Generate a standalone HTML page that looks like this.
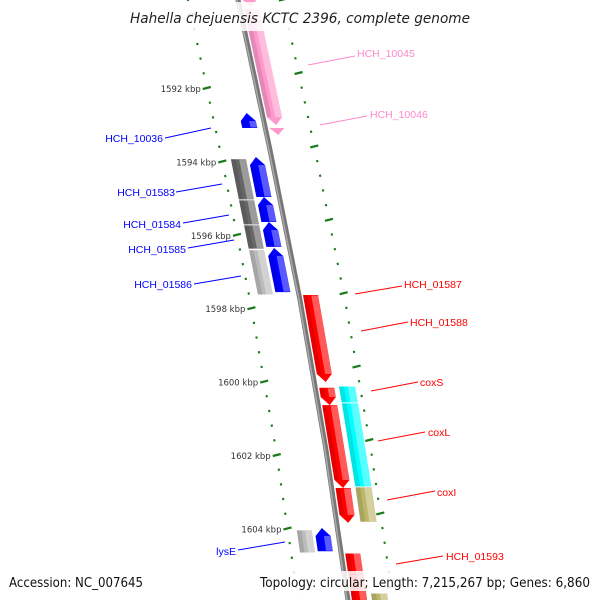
<!DOCTYPE html>
<html><head><meta charset="utf-8"><style>
body{margin:0;background:#fff}
svg{display:block;font-family:"Liberation Sans",sans-serif}
</style></head><body>
<svg id="map" width="600" height="600" viewBox="0 0 600 600" xmlns="http://www.w3.org/2000/svg">
<g id="rings"></g>
<g id="feats"></g>
<g id="labels"></g>
<rect x="0" y="2" width="600" height="29" fill="#fff" opacity="0.85"/>
<text x="300" y="23" text-anchor="middle" font-size="14" font-style="italic" fill="#222" font-family="DejaVu Sans, sans-serif" textLength="340" lengthAdjust="spacingAndGlyphs">Hahella chejuensis KCTC 2396, complete genome</text>
<rect x="0" y="571" width="600" height="20" fill="#fff" opacity="0.85"/>
<text x="9" y="587" font-size="13" fill="#111" font-family="DejaVu Sans, sans-serif" textLength="134" lengthAdjust="spacingAndGlyphs">Accession: NC_007645</text>
<text x="260" y="587" font-size="13" fill="#111" font-family="DejaVu Sans, sans-serif" textLength="330" lengthAdjust="spacingAndGlyphs">Topology: circular; Length: 7,215,267 bp; Genes: 6,860</text>
</svg>
<script>
// data
const tickKbp=[1592,1594,1596,1598,1600,1602,1604];
const featStart=[1589.4,1589.85,1593.09,1597.64,1600.17,1600.64,1602.9,1604.67,1605.76,1600.12,1600.58,1602.87,1605.76,1592.68,1593.88,1594.97,1595.65,1596.36,1603.99,1593.93,1595.05,1595.73,1596.41,1604.04];
const featEnd=  [1589.8,1593.01,1593.28,1600.01,1600.64,1602.9,1603.85,1606.2,1606.2,1600.58,1602.87,1603.83,1606.2,1593.09,1594.97,1595.65,1596.33,1597.56,1604.62,1595.05,1595.73,1596.39,1597.64,1604.67];
const featRing= [1,1,1,1,1,1,1,1,1,2,2,2,2,-1,-1,-1,-1,-1,-1,-2,-2,-2,-2,-2];
const featColor=["#ff99cc","#ff99cc","#ff99cc","#ff0000","#ff0000","#ff0000","#ff0000","#ff0000","#ff0000","#00ffff","#00ffff","#bdb76b","#bdb76b","#0000ff","#0000ff","#0000ff","#0000ff","#0000ff","#0000ff","#666666","#666666","#666666","#bbbbbb","#bbbbbb"];
const featArrow=[1,1,1,1,1,1,1,0,0,0,0,0,0,1,1,1,1,1,1,0,0,0,0,0];
const labelText=["HCH_10045","HCH_10046","HCH_01587","HCH_01588","coxS","coxL","coxI","HCH_01593","HCH_10036","HCH_01583","HCH_01584","HCH_01585","HCH_01586","lysE"];
const labelColor=["#ff88cc","#ff88cc","red","red","red","red","red","red","blue","blue","blue","blue","blue","blue"];
const labelPos=[[357,57,308,65,355,56],[370,118,320,125,367,116],[404,288,355,294,402,286],[410,326,361,331,408,322],[420,386,371,391,418,382],[428,436,378,441,425,432],[437,496,387,500,435,491],[446,560,396,564,443,556],[163,142,165,138,211,128],[175,196,176,192,222,184],[181,228,183,223,229,215],[186,253,188,248,234,240],[192,288,194,284,241,276],[236,555,238,550,285,542]];

const NS="http://www.w3.org/2000/svg";
const bbY=[0,150,300,450,600], bbX=[238,270,300,326,348];
function bx(y){ if(y<=0)return bbX[0]+(y)*0.213; if(y>=600)return 348+(y-600)*0.147;
 for(let i=0;i<4;i++){ if(y<=bbY[i+1]){const t=(y-bbY[i])/150; return bbX[i]+t*(bbX[i+1]-bbX[i]);} } }
function yk(k){return 88+(k-1592)*36.7;}
function mk(tag,at,parent){const e=document.createElementNS(NS,tag);for(const a in at)e.setAttribute(a,at[a]);parent.appendChild(e);return e;}
const rings=document.getElementById('rings'),feats=document.getElementById('feats'),labs=document.getElementById('labels');

// backbone
let d="";for(let y=-10;y<=610;y+=10){d+=(y==-10?"M":"L")+bx(y).toFixed(1)+","+y;}
let bb=mk('path',{d:d,stroke:'#777',"stroke-width":5,fill:'none'},rings);


let bb2=mk('path',{d:d,stroke:'#aaa',"stroke-width":1.5,fill:'none',transform:'translate(-1,0)'},rings);



// tick rings
for(let i=0;i<=45;i++){
  const kk=Math.round((1589.2+i*0.4)*10)/10;
  const major=Math.abs(kk/2-Math.round(kk/2))<0.01;
  const y=yk(kk);
  const xl=bx(y)-50;
  let t=mk('line',{x1:xl-(major?4:1),y1:y+(major?1:0.3),x2:xl+(major?4:1),y2:y-(major?1:0.3),stroke:'#1a7a1a',"stroke-width":2.2},rings);
  
  
  const yr=y-15, xr=bx(yr)+45;
  let r=mk('line',{x1:xr-(major?4:1),y1:yr+(major?1:0.3),x2:xr+(major?4:1),y2:yr-(major?1:0.3),stroke:'#1a7a1a',"stroke-width":2.2},rings);
  
  
}
tickKbp.forEach(k=>{const y=yk(k);
  let t=mk('text',{x:bx(y)-56,y:y+4,"font-size":8.5,"text-anchor":"end",fill:'#333',"font-family":"DejaVu Sans, sans-serif"},rings);
  t.textContent=k+" kbp";
  
  
});

// features
const ringOff={1:[4,19],2:[24,40],"-1":[-23,-8],"-2":[-41,-26]};
function lighten(c){const n=parseInt(c.slice(1),16);let r=n>>16,g=(n>>8)&255,b=n&255;r=Math.min(255,r+(255-r)*0.35);g=Math.min(255,g+(255-g)*0.35);b=Math.min(255,b+(255-b)*0.35);return `rgb(${r|0},${g|0},${b|0})`;}
function darken(c){const n=parseInt(c.slice(1),16);return `rgb(${(n>>16)*0.7|0},${((n>>8)&255)*0.7|0},${(n&255)*0.7|0})`;}
for(let i=0;i<featStart.length;i++){
  const y1=yk(featStart[i]),y2=yk(featEnd[i]),o=ringOff[featRing[i]];
  const fwd=featRing[i]>0, arrow=featArrow[i];
  const ah=Math.min(8,(y2-y1));
  let pts=[];
  if(arrow&&fwd){ pts=[[o[0],y1],[o[1],y1],[o[1],y2-ah],[(o[0]+o[1])/2,y2],[o[0],y2-ah]]; }
  else if(arrow){ pts=[[(o[0]+o[1])/2,y1],[o[1],y1+ah],[o[1],y2],[o[0],y2],[o[0],y1+ah]]; }
  else pts=[[o[0],y1+0.5],[o[1],y1+0.5],[o[1],y2-0.5],[o[0],y2-0.5]];
  const P=pts.map(p=>(bx(p[1])+p[0]).toFixed(1)+","+p[1].toFixed(1)).join(" ");
  let g=mk('g',{},feats);
  
  
  mk('polygon',{points:P,fill:featColor[i]},g);
  const a=o[0]+(o[1]-o[0])*0.55,b=o[1];
  const ya=y1+(arrow&&!fwd?ah:0.5), yb=y2-(arrow&&fwd?ah:0.5);
  if(yb>ya) mk('polygon',{points:[[a,ya],[b,ya],[b,yb],[a,yb]].map(p=>(bx(p[1])+p[0]).toFixed(1)+","+p[1].toFixed(1)).join(" "),fill:lighten(featColor[i])},g);
  const c2=o[0]+(o[1]-o[0])*0.3;
  if(yb>ya) mk('polygon',{points:[[o[0],ya],[c2,ya],[c2,yb],[o[0],yb]].map(p=>(bx(p[1])+p[0]).toFixed(1)+","+p[1].toFixed(1)).join(" "),fill:darken(featColor[i]),opacity:0.35},g);
}

// labels
labelText.forEach((t,i)=>{const p=labelPos[i];
  let l=mk('line',{x1:p[2],y1:p[3],x2:p[4],y2:p[5],stroke:labelColor[i],"stroke-width":1},labs);
  
  
  const right=i<8;
  let tx=mk('text',{x:p[0],y:p[1],"font-size":10.5,"text-anchor":right?"start":"end",fill:labelColor[i]},labs);
  tx.textContent=t;
  
  
});
</script>
</body></html>
